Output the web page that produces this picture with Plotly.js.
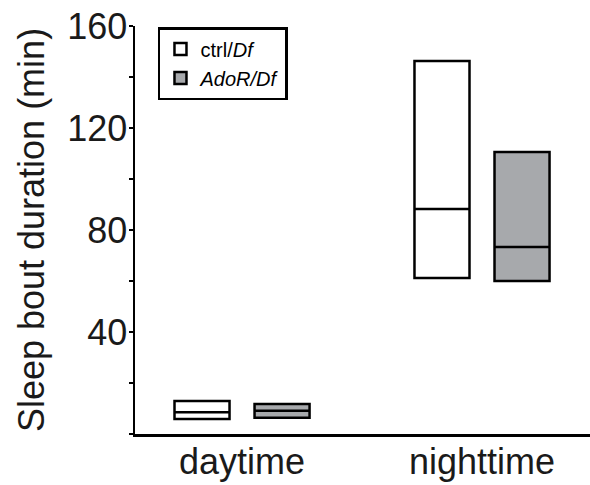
<!DOCTYPE html>
<html>
<head>
<meta charset="utf-8">
<script src="https://cdn.plot.ly/plotly-3.0.1.min.js"></script>
<style>
  html, body { margin: 0; padding: 0; background: #fff; }
  #chart { width: 590px; height: 485px; }
</style>
</head>
<body>
<div id="chart"></div>
<script>
// Data
const categories = ['daytime', 'nighttime'];
const seriesNames = ['ctrl/<i>Df</i>', '<i>AdoR/Df</i>'];
const ctrlQ1 = [5.9, 61.2];
const ctrlMedian = [8.5, 88.2];
const ctrlQ3 = [12.9, 146.3];
const adorQ1 = [6.4, 60.0];
const adorMedian = [9.1, 73.3];
const adorQ3 = [11.8, 110.6];
const yTickVals = [40, 80, 120, 160];
const yTickText = ['40', '80', '120', '160'];

const fontFam = 'Liberation Sans, Arial, Helvetica, sans-serif';

function boxTrace(name, q1, med, q3, fill) {
  return {
    type: 'box',
    name: name,
    x: categories,
    q1: q1,
    median: med,
    q3: q3,
    lowerfence: q1,
    upperfence: q3,
    fillcolor: fill,
    line: { color: '#000000', width: 2.5 },
    whiskerwidth: 0,
    boxpoints: false,
    hoverinfo: 'skip'
  };
}

const data = [
  boxTrace(seriesNames[0], ctrlQ1, ctrlMedian, ctrlQ3, '#ffffff'),
  boxTrace(seriesNames[1], adorQ1, adorMedian, adorQ3, '#a7a9ac')
];

const layout = {
  width: 590,
  height: 485,
  margin: { l: 135, r: 0, t: 26, b: 51 },
  paper_bgcolor: '#ffffff',
  plot_bgcolor: '#ffffff',
  boxmode: 'group',
  boxgap: 0.333,
  boxgroupgap: 0.3125,
  font: { family: fontFam, color: '#000000' },
  showlegend: true,
  legend: {
    x: 0.0505, y: 0.9975, xanchor: 'left', yanchor: 'top',
    bordercolor: '#000000', borderwidth: 2.5,
    bgcolor: '#ffffff',
    entrywidth: 95,
    font: { family: fontFam, size: 20, color: '#000000' }
  },
  xaxis: {
    type: 'category',
    range: [-0.446, 1.45],
    showline: true, linecolor: '#000000', linewidth: 2.5,
    ticks: '', showgrid: false, zeroline: false,
    tickfont: { family: fontFam, size: 36, color: '#1a1a1a' },
    ticklabelstandoff: -6,
    fixedrange: true
  },
  yaxis: {
    range: [0, 160],
    showline: true, linecolor: '#000000', linewidth: 2.5,
    ticks: 'outside', ticklen: 4, tickwidth: 2, tickcolor: '#000000',
    tickvals: yTickVals, ticktext: yTickText,
    ticklabelstandoff: -6,
    minor: { dtick: 20, tick0: 0, ticks: 'outside', ticklen: 4, tickwidth: 2, tickcolor: '#000000', showgrid: false },
    showgrid: false, zeroline: false,
    tickfont: { family: fontFam, size: 36, color: '#1a1a1a' },
    title: { text: 'Sleep bout duration (min)', font: { family: fontFam, size: 36, color: '#1a1a1a' }, standoff: 12 },
    fixedrange: true
  }
};

Plotly.newPlot('chart', data, layout, { displayModeBar: false, staticPlot: true });
</script>
</body>
</html>
